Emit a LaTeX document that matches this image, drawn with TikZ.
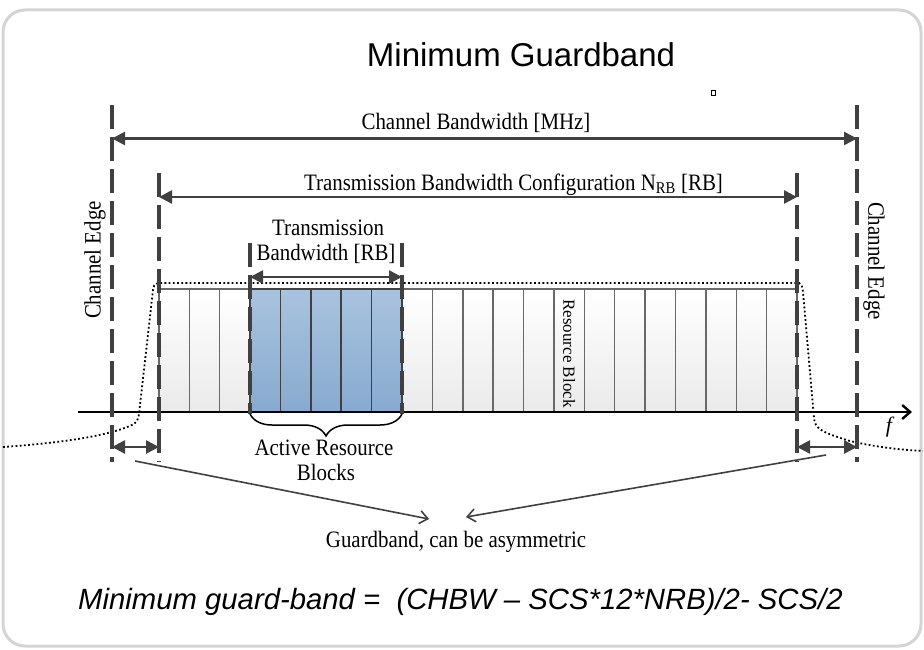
\documentclass[tikz,border=0pt]{standalone}
\usepackage{fontspec}
\setmainfont{Liberation Serif}
\newfontfamily\sansf{Liberation Sans}
\usetikzlibrary{arrows.meta,decorations.pathreplacing}
\definecolor{dk}{RGB}{64,64,64}
\definecolor{framec}{RGB}{212,212,212}
\definecolor{blueT}{RGB}{168,195,223}
\definecolor{blueB}{RGB}{136,170,207}
\definecolor{grayB}{RGB}{234,234,234}
\definecolor{sepc}{RGB}{105,105,105}
\newcommand{\narrowtxt}[1]{\scalebox{0.89}[1]{#1}}
\begin{document}
\begin{tikzpicture}[x=1pt,y=-1pt,
  lbl/.style={font=\fontsize{23.5}{27}\selectfont, inner sep=0pt},
  edgeline/.style={dk, line width=3.2pt, dash pattern=on 24pt off 8pt},
  dimarrow/.style={dk, line width=2.6pt, {Triangle[length=13pt,width=13pt]}-{Triangle[length=13pt,width=13pt]}},
  pointer/.style={dk, line width=1.6pt, -{Straight Barb[length=8pt,width=13pt]}},
  rb/.style={draw=sepc, line width=1.4pt, top color=white, bottom color=grayB, minimum width=30.381pt, minimum height=123pt, anchor=north west, inner sep=0pt, outer sep=0pt},
  arb/.style={draw=dk, line width=1.6pt, top color=blueT, bottom color=blueB, minimum width=30.381pt, minimum height=123pt, anchor=north west, inner sep=0pt, outer sep=0pt},
]
\useasboundingbox (0,0) rectangle (924,650);
\draw[framec, line width=3pt, rounded corners=22pt] (3,10) rectangle (921,646);

\node[font=\sansf\fontsize{33}{38}\selectfont, anchor=base, inner sep=0pt] (title) at (521,67) {Minimum Guardband};
\draw[line width=0.8pt] (711,90) rectangle (715,95);

% resource blocks
\foreach \i [evaluate=\i as \xa using 159+\i*30.381] in {0,1,2,8,9,10,11,12,13,14,15,16,17,18,19,20}
  \node[rb] (b\i) at (\xa,289) {};
\foreach \i [evaluate=\i as \xa using 159+\i*30.381] in {3,4,5,6,7}
  \node[arb] (b\i) at (\xa,289) {};
\node[lbl, font=\fontsize{17}{20}\selectfont, rotate=-90] (rbtxt) at ([yshift=-3pt]b13.center) {Resource Block};

% envelope
\draw[line width=1.8pt, dash pattern=on 1.8pt off 2.4pt]
  (3,447) .. controls (60,443) and (110,436) .. (134,424)
  .. controls (139,421) and (139,414) .. (140,405) -- (153,290)
  .. controls (154,285) .. (158,283) -- (799,283)
  .. controls (802,285) .. (803,292) -- (814,418)
  .. controls (815,428) and (820,432) .. (850,441)
  .. controls (880,448) and (905,450) .. (923,451);

% axis
\coordinate (ax0) at (78,412);
\coordinate (ax1) at (912,412);
\draw[black, line width=2.4pt, -{Straight Barb[length=8pt,width=14pt]}] (ax0) -- (ax1);
\node[lbl, font=\itshape\fontsize{22}{25}\selectfont] (f) at (889,427) {f};

% dashed edge lines
\coordinate (ceLt) at (112,105); \coordinate (ceLb) at (112,462);
\coordinate (ceRt) at (857,105); \coordinate (ceRb) at (857,462);
\coordinate (tcLt) at (159,173); \coordinate (tcLb) at (159,462);
\coordinate (tcRt) at (797,173); \coordinate (tcRb) at (797,462);
\coordinate (abLt) at (250,243); \coordinate (abLb) at (250,414);
\coordinate (abRt) at (402,243); \coordinate (abRb) at (402,414);
\draw[edgeline] (ceLt) -- (ceLb);
\draw[edgeline] (ceRt) -- (ceRb);
\draw[edgeline] (tcLt) -- (tcLb);
\draw[edgeline] (tcRt) -- (tcRb);
\draw[edgeline] (abLt) -- (abLb);
\draw[edgeline] (abRt) -- (abRb);

% dimension arrows
\coordinate (cbL) at (112,138.5); \coordinate (cbR) at (857,138.5);
\draw[dimarrow] (cbL) -- (cbR);
\node[lbl, anchor=base] (cbw) at (476,129.5) {\narrowtxt{Channel Bandwidth [MHz]}};

\coordinate (tbL) at (159,197); \coordinate (tbR) at (797,197);
\draw[dimarrow] (tbL) -- (tbR);
\node[lbl, anchor=base] (tbc) at (513.5,190) {\narrowtxt{Transmission Bandwidth Configuration N\textsubscript{RB} [RB]}};

\coordinate (txL) at (250,277); \coordinate (txR) at (402,277);
\draw[dimarrow] (txL) -- (txR);
\node[lbl, anchor=base] (tx1) at (328,235) {\narrowtxt{Transmission}};
\node[lbl, anchor=base] (tx2) at (326,260) {\narrowtxt{Bandwidth [RB]}};

% brace
\draw[decorate, decoration={brace, mirror, amplitude=22pt}, line width=1.5pt] (abLb) -- (abRb);
\node[lbl, anchor=base] (ar1) at (324,455) {\narrowtxt{Active Resource}};
\node[lbl, anchor=base] (ar2) at (326,480) {\narrowtxt{Blocks}};

% channel edge labels
\node[lbl, rotate=90] (ceLtxt) at (95,260) {\narrowtxt{Channel Edge}};
\node[lbl, rotate=-90] (ceRtxt) at (874,261) {\narrowtxt{Channel Edge}};

% guard arrows
\coordinate (gLa) at (112,447); \coordinate (gLb) at (159,447);
\coordinate (gRa) at (797,447); \coordinate (gRb) at (857,447);
\draw[dimarrow] (gLa) -- (gLb);
\draw[dimarrow] (gRa) -- (gRb);

% pointers
\coordinate (pL) at (135,461); \coordinate (tipL) at (429,519);
\coordinate (pR) at (826,455); \coordinate (tipR) at (466,517);
\draw[pointer] (pL) -- (tipL);
\draw[pointer] (pR) -- (tipR);
\node[lbl, anchor=base] (gb) at (456,547) {\narrowtxt{Guardband, can be asymmetric}};

\node[font=\sansf\itshape\fontsize{29.3}{34}\selectfont, anchor=base west, inner sep=0pt] (formula) at (78,609) {Minimum guard-band =\ \ (CHBW – SCS*12*NRB)/2- SCS/2};
\end{tikzpicture}
\end{document}
